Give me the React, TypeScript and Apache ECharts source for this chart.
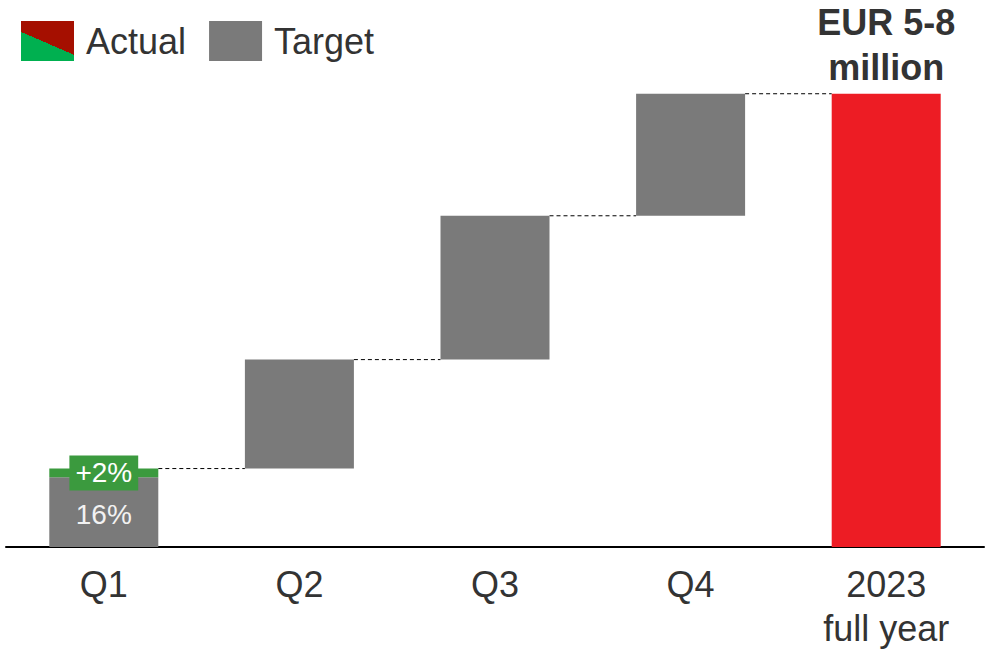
import React, { useEffect, useRef } from "react";
import * as echarts from "echarts";

const categories = ["Q1", "Q2", "Q3", "Q4", "2023\nfull year"];
const baseValues = [0, 18, 43, 76, 0];
const targetValues: (number | string)[] = [16, 25, 33, 28, "-"];
const actualDelta: (number | string)[] = [2, "-", "-", "-", "-"];
const fullYearValues: (number | string)[] = ["-", "-", "-", "-", 104];
const connectorLevels = [18, 43, 76, 104];
const q1TargetLabel = "16%";
const q1ActualLabel = "+2%";
const fullYearLabel = "EUR 5-8\nmillion";

const FONT = "'Liberation Sans', Arial, sans-serif";
const BAR_W = 109;

export default function App() {
  const ref = useRef<HTMLDivElement>(null);
  useEffect(() => {
    if (!ref.current) return;
    document.body.style.margin = "0";
    document.body.style.overflow = "hidden";
    const chart = echarts.init(ref.current, undefined, { renderer: "svg" });
    const legendGradient = new echarts.graphic.LinearGradient(1, 0, 0.274, 1.274, [
      { offset: 0, color: "#a50f00" },
      { offset: 0.5, color: "#a50f00" },
      { offset: 0.5, color: "#00b050" },
      { offset: 1, color: "#00b050" },
    ]);
    chart.setOption({
      animation: false,
      textStyle: { fontFamily: FONT },
      legend: {
        left: 21,
        top: 21,
        padding: 0,
        itemWidth: 53,
        itemHeight: 40,
        itemGap: 23,
        icon: "rect",
        textStyle: { fontSize: 36, color: "#333", fontFamily: FONT, padding: [0, 0, 0, 7] },
        data: [
          { name: "Actual", itemStyle: { color: legendGradient } },
          { name: "Target" },
        ],
      },
      grid: { left: 6, width: 978, top: 67.6, height: 484, containLabel: false },
      xAxis: {
        type: "category",
        data: categories,
        axisLine: { show: true, lineStyle: { color: "#000", width: 2 } },
        axisTick: { show: false },
        axisLabel: {
          fontSize: 36,
          lineHeight: 44,
          color: "#333",
          fontFamily: FONT,
          margin: 15,
          interval: 0,
        },
      },
      yAxis: {
        type: "value",
        min: 0,
        max: 110,
        show: false,
        splitLine: { show: false },
      },
      series: [
        {
          name: "base",
          type: "bar",
          stack: "w",
          barWidth: BAR_W,
          data: baseValues,
          itemStyle: { color: "transparent" },
          silent: true,
        },
        {
          name: "Target",
          type: "bar",
          stack: "w",
          barWidth: BAR_W,
          itemStyle: { color: "#7a7a7a" },
          data: targetValues.map((v, i) =>
            i === 0
              ? {
                  value: v,
                  label: {
                    show: true,
                    position: "inside",
                    formatter: q1TargetLabel,
                    fontSize: 28,
                    color: "#f2f2f2",
                    fontFamily: FONT,
                    offset: [0, 2],
                  },
                }
              : v
          ),
        },
        {
          name: "Actual",
          type: "bar",
          stack: "w",
          barWidth: BAR_W,
          itemStyle: { color: "#3b9a3e" },
          data: actualDelta.map((v, i) =>
            i === 0
              ? {
                  value: v,
                  label: {
                    show: true,
                    position: "inside",
                    formatter: q1ActualLabel,
                    fontSize: 28,
                    color: "#fff",
                    fontFamily: FONT,
                    backgroundColor: "#3b9a3e",
                    padding: [4, 6, 3, 6],
                  },
                }
              : v
          ),
        },
        {
          name: "Full year",
          type: "bar",
          stack: "w",
          barWidth: BAR_W,
          itemStyle: { color: "#ed1c24" },
          data: fullYearValues,
          label: {
            show: true,
            position: "top",
            distance: 4,
            formatter: fullYearLabel,
            fontSize: 36,
            lineHeight: 45,
            fontWeight: "bold",
            color: "#333",
            fontFamily: FONT,
          },
        },
        {
          name: "connectors",
          type: "custom",
          silent: true,
          data: connectorLevels.map((v, i) => [i, v]),
          encode: { x: 0, y: 1 },
          renderItem: (params: any, api: any) => {
            const p = api.coord([api.value(0), api.value(1)]);
            const band = api.size([1, 0])[0];
            return {
              type: "line",
              shape: {
                x1: p[0] + BAR_W / 2,
                y1: p[1],
                x2: p[0] + band - BAR_W / 2,
                y2: p[1],
              },
              style: { stroke: "#000", lineWidth: 1, lineDash: [4, 3] },
            };
          },
        },
      ],
    });
    return () => chart.dispose();
  }, []);
  return (
    <div
      ref={ref}
      style={{ position: "absolute", left: 0, top: 0, width: 987, height: 650 }}
    />
  );
}
